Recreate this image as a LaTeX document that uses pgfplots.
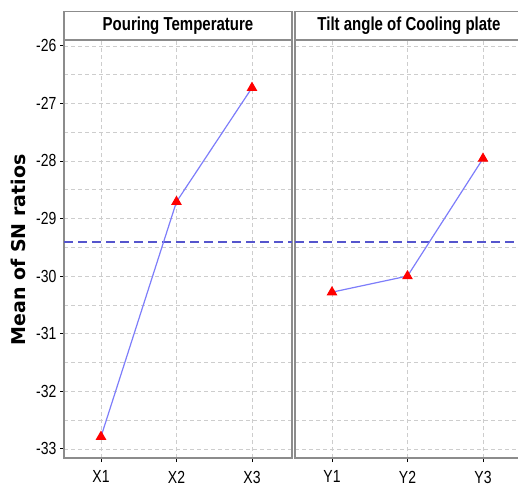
\documentclass[border=0pt]{standalone}
\usepackage{fontspec}
\setmainfont{Liberation Sans}
\newfontfamily\dejavu{DejaVu Sans}
\usepackage{pgfplots}
\pgfplotsset{compat=1.18}

\definecolor{lineblue}{RGB}{125,125,250}
\definecolor{meanblue}{RGB}{85,85,205}
\definecolor{framegray}{RGB}{140,140,140}
\definecolor{gridgray}{RGB}{205,205,205}

\pgfplotsset{
  panel/.style={
    scale only axis,
    width=228pt, height=418pt,
    xmin=0.51, xmax=3.53,
    ymin=-33.16, ymax=-25.9,
    xtick={1,2,3},
    ytick={-33,-32,...,-26},
    minor ytick={-32.5,-31.5,...,-26.5},
    grid=both,
    major grid style={gridgray, dashed, dash pattern=on 4pt off 3pt},
    minor grid style={gridgray, dashed, dash pattern=on 4pt off 3pt},
    axis line style={framegray, line width=1.2pt},
    tick style={black, line width=0.6pt},
    tick align=outside,
    major tick length=4pt,
    minor tick length=0pt,
    xtick pos=bottom, ytick pos=left,
    tick label style={font=\fontsize{14}{16}\selectfont, yscale=1.25, transform shape},
    xticklabel style={yshift=-3.5pt},
    /pgf/number format/assume math mode=true,
    every axis title/.style={
      at={(0.5,1)}, anchor=south, draw=framegray, line width=1.2pt,
      yscale=1.25, transform shape,
      minimum width=228pt, minimum height=22.4pt, inner sep=0pt,
      font=\fontsize{15}{17}\selectfont\bfseries},
  },
  meanline/.style={meanblue, line width=1.5pt, dash pattern=on 9pt off 5pt, forget plot},
  effect/.style={lineblue, line width=1.2pt, mark=triangle*,
    mark options={red, fill=red, scale=1}, mark size=5pt},
}

\begin{document}
\begin{tikzpicture}
\useasboundingbox (0,0) rectangle (518pt,488pt);

\begin{axis}[panel, at={(64pt,30pt)}, anchor=south west,
  title={Pouring Temperature}, xticklabels={X1,X2,X3}]
\addplot[meanline] coordinates {(0.51,-29.41) (3.53,-29.41)};
\addplot[effect] coordinates {(1,-32.79) (2,-28.71) (3,-26.73)};
\end{axis}

\begin{axis}[panel, at={(295pt,30pt)}, anchor=south west,
  title={Tilt angle of Cooling plate}, xticklabels={Y1,Y2,Y3},
  yticklabels={}, ytick style={draw=none}]
\addplot[meanline] coordinates {(0.51,-29.41) (3.53,-29.41)};
\addplot[effect] coordinates {(1,-30.28) (2,-30.0) (3,-27.96)};
\end{axis}

\node[rotate=90, font=\dejavu\bfseries\fontsize{19}{21}\selectfont] at (18pt,238pt) {Mean of SN ratios};
\end{tikzpicture}
\end{document}
